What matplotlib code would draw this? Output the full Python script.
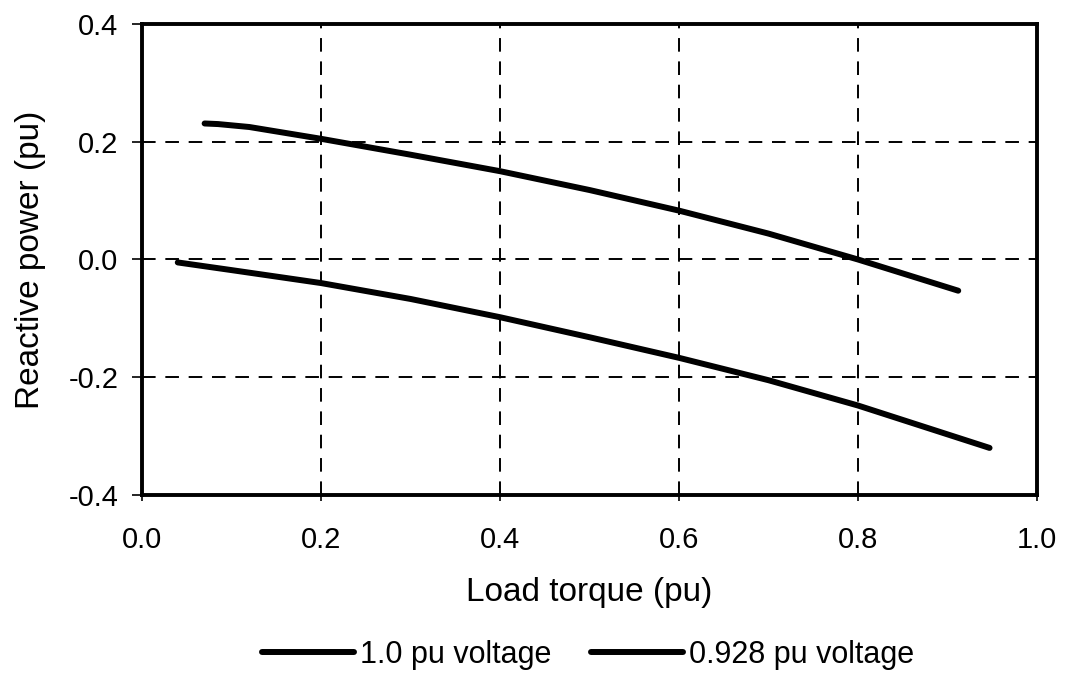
import numpy as np
import matplotlib.pyplot as plt

plt.rcParams['font.family'] = ['Liberation Sans', 'DejaVu Sans']

# данные
x_hi = [0.07, 0.085, 0.12, 0.2, 0.3, 0.4, 0.5, 0.6, 0.7, 0.8, 0.912]
q_hi = [0.231, 0.23, 0.225, 0.205, 0.178, 0.15, 0.118, 0.083, 0.044, 0.0, -0.053]
x_lo = [0.04, 0.1, 0.2, 0.3, 0.4, 0.5, 0.6, 0.7, 0.8, 0.947]
q_lo = [-0.005, -0.018, -0.04, -0.067, -0.098, -0.132, -0.167, -0.205, -0.248, -0.32]
labels = ['1.0 pu voltage', '0.928 pu voltage']

fig = plt.figure(figsize=(10.65, 6.81), dpi=100)
ax = fig.add_axes([0.1333, 0.2731, 0.8404, 0.6917])

ax.plot(x_hi, q_hi, color='black', lw=4.3, solid_capstyle='round', label=labels[0])
ax.plot(x_lo, q_lo, color='black', lw=4.3, solid_capstyle='round', label=labels[1])

ax.set_xlim(0, 1.0)
ax.set_ylim(-0.4, 0.4)
ax.set_xticks(np.arange(0, 1.01, 0.2))
ax.set_yticks(np.arange(-0.4, 0.41, 0.2))
ax.xaxis.set_major_formatter(plt.FormatStrFormatter('%.1f'))
ax.yaxis.set_major_formatter(plt.FormatStrFormatter('%.1f'))
ax.grid(True, color='black', linestyle=(0, (7, 5)), lw=1.4)
for s in ax.spines.values():
    s.set_linewidth(2.8)
ax.tick_params(axis='x', direction='out', length=4, width=1.2, labelsize=21, pad=18)
ax.tick_params(axis='y', direction='out', length=7, width=1.2, labelsize=21, pad=10)

ax.set_xlabel('Load torque (pu)', fontsize=24, va='center')
ax.set_ylabel('Reactive power (pu)', fontsize=24, va='center')
ax.xaxis.set_label_coords(0.5, -0.206)
ax.yaxis.set_label_coords(-0.125, 0.5)

fig.legend(loc='center', bbox_to_anchor=(0.552, 0.038), ncol=2, frameon=False,
           fontsize=22, handlelength=3.0, columnspacing=1.3, handletextpad=0.2)

fig.savefig('out.png', dpi=100)
